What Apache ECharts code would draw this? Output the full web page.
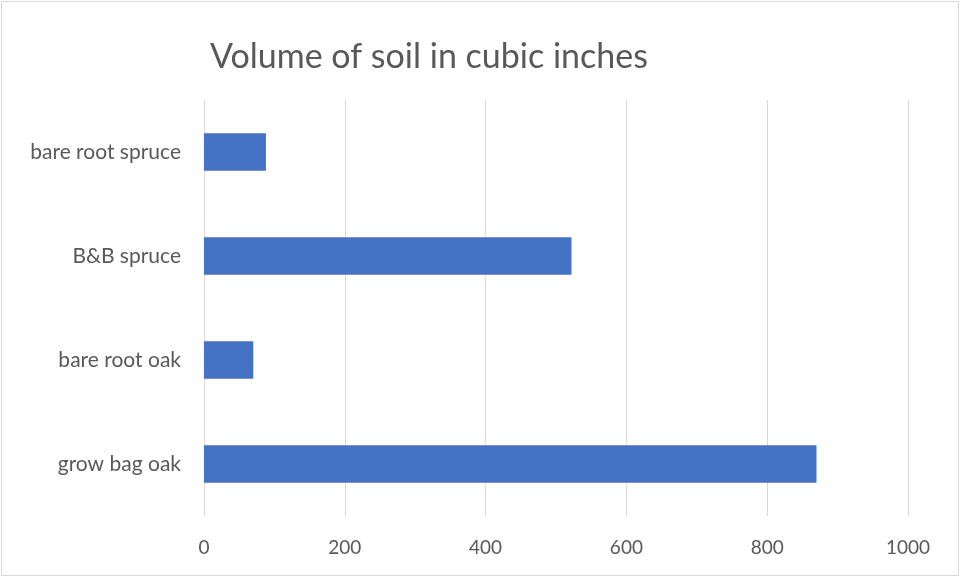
<!DOCTYPE html>
<html>
<head>
<meta charset="utf-8">
<script src="https://cdn.jsdelivr.net/npm/echarts@6/dist/echarts.min.js"></script>
<style>
  html, body { margin: 0; padding: 0; background: #fff; }
  #chart { width: 961px; height: 578px; }
</style>
</head>
<body>
<div id="chart"></div>
<script>
// Plant types (bottom to top on the category axis)
const categories = ['grow bag oak', 'bare root oak', 'B&B spruce', 'bare root spruce'];
// Soil volume for each plant type, cubic inches
const soilVolume = [870, 70, 522, 88];
// Value axis ticks
const axisMin = 0;
const axisMax = 1000;
const axisStep = 200;

const fontFamily = 'Lato, "Open Sans", sans-serif';
const textColor = '#595959';

const chart = echarts.init(document.getElementById('chart'), null, { renderer: 'canvas' });
chart.setOption({
  animation: false,
  backgroundColor: '#ffffff',
  title: {
    text: 'Volume of soil in cubic inches',
    left: 205,
    top: 35,
    textStyle: { fontFamily, fontSize: 34, fontWeight: 'normal', color: textColor }
  },
  graphic: [{
    type: 'rect',
    shape: { x: 1.5, y: 1.5, width: 957, height: 574 },
    style: { fill: 'none', stroke: '#d9d9d9', lineWidth: 1 },
    silent: true
  }],
  grid: { left: 204, right: 53, top: 100, bottom: 62 },
  xAxis: {
    type: 'value',
    min: axisMin,
    max: axisMax,
    interval: axisStep,
    axisLine: { show: false },
    axisTick: { show: false },
    splitLine: { show: true, lineStyle: { color: '#d9d9d9', width: 1 } },
    axisLabel: {
      fontFamily, fontSize: 19, color: textColor, margin: 22,
      formatter: (v) => String(v)
    }
  },
  yAxis: {
    type: 'category',
    data: categories,
    axisLine: { show: false },
    axisTick: { show: false },
    splitLine: { show: false },
    axisLabel: { fontFamily, fontSize: 21, color: textColor, margin: 23 }
  },
  series: [{
    type: 'bar',
    data: soilVolume,
    barCategoryGap: '64%',
    itemStyle: { color: '#4472C4' }
  }]
});
</script>
</body>
</html>
